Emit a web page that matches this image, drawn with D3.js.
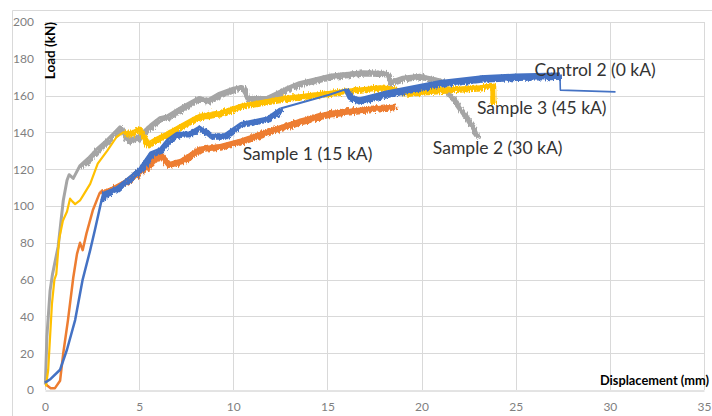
<!DOCTYPE html>
<html><head><meta charset="utf-8">
<script src="https://cdn.jsdelivr.net/npm/d3@7"></script>
<style>html,body{margin:0;padding:0;background:#fff;}svg{display:block;}</style>
</head><body>
<svg id="chart" width="712" height="416"></svg>
<script>
const xTicks = [0, 5, 10, 15, 20, 25, 30, 35];
const yTicks = [0, 20, 40, 60, 80, 100, 120, 140, 160, 180, 200];

// Sample 2 (30 kA) - grey
const sample2 = [[0.02,3],[0.1,29],[0.27,54],[0.4,63],[0.7,78],[0.97,103],[1.17,114],[1.28,117],[1.5,115],[1.86,122],[2.3,126],[2.76,131],[3.3,136],[3.7,140],[3.98,143],[4.35,136],[4.9,137.5],[5.6,144],[6.1,148],[6.5,149],[7.3,154],[8.2,159],[8.6,157.5],[9.2,161],[10.0,164],[10.45,165],[10.7,159],[11.8,159],[12.8,164],[13.5,167],[15.1,171],[16.9,173],[18.0,172.5],[18.15,172],[18.3,167.5],[19.0,170],[19.9,171],[21.0,168.5],[21.3,163],[21.7,157.6],[22.2,150.5],[22.7,143],[22.9,138]];
// Sample 1 (15 kA) - orange
const sample1 = [[0.05,3],[0.3,1],[0.53,1],[0.8,5],[0.97,20],[1.22,38],[1.5,61],[1.7,74],[1.86,80],[2.0,76],[2.2,85],[2.55,98],[2.9,107],[3.6,110],[4.3,114],[5.0,119.6],[5.6,124],[6.0,129],[6.5,123],[7.2,125],[8.2,131.5],[9.3,133],[10.4,136],[11.8,141],[13.5,146.7],[15.1,151],[16.9,153],[18.6,154.5]];
// Sample 3 (45 kA) - yellow
const sample3 = [[0.05,2],[0.17,11],[0.37,47],[0.5,60],[0.6,63],[0.75,82],[0.95,92],[1.17,97],[1.33,104],[1.45,102.5],[1.6,101],[1.86,103],[2.1,107],[2.4,112],[2.8,123],[3.3,130],[3.8,137.5],[4.15,140],[4.5,140],[4.95,142],[5.4,134],[5.9,137],[6.5,140],[7.2,144],[7.9,148],[8.2,149.5],[9.3,151],[10.4,155],[11.8,157.6],[12.6,159],[14.2,161],[16.0,163],[17.8,165],[18.3,164.5],[19.2,162],[20.4,163],[21.5,164],[23.1,165],[23.7,166],[23.72,156]];
// Control 2 (0 kA) - blue
const control2 = [[0.0,4],[0.3,6],[0.8,11],[1.17,22],[1.6,38],[2.0,60],[2.4,76],[2.65,87],[3.0,103],[3.1,107],[3.8,110],[4.4,115],[5.0,120],[5.6,129],[6.1,131],[6.5,136],[7.0,139.6],[7.7,140],[8.2,143],[8.5,141],[8.8,138.6],[9.5,138.6],[10.4,145],[11.8,148],[12.5,153]];
const control2Bridge = [[12.5,153],[15.1,160.5],[16.0,163.5]];
const control2Late = [[16.0,163.5],[16.2,159],[16.7,157.5],[18.2,161.5],[19.5,164],[21.0,167],[23.1,169.5],[25.0,170.5],[27.2,171],[27.35,171]];
const control2Tail = [[27.35,171],[27.37,163],[30.3,162]];

const labelTexts = ["Control 2 (0 kA)", "Sample 3 (45 kA)", "Sample 2 (30 kA)", "Sample 1 (15 kA)"];
const labelX = [26.0, 22.94, 20.6, 10.5];
const labelY = [170.9, 150, 128.3, 125];

const svg = d3.select("#chart");
const W = 712, H = 416;
svg.append("rect").attr("width", W).attr("height", H).attr("fill", "#fff");

const defs = svg.append("defs");
const filt = defs.append("filter").attr("id", "noise").attr("x", "-5%").attr("y", "-20%").attr("width", "110%").attr("height", "140%");
filt.append("feTurbulence").attr("type", "turbulence").attr("baseFrequency", "0.9 0.05").attr("numOctaves", 1).attr("seed", 3).attr("result", "t");
filt.append("feDisplacementMap").attr("in", "SourceGraphic").attr("in2", "t").attr("scale", 5).attr("xChannelSelector", "R").attr("yChannelSelector", "G");

const x = d3.scaleLinear().domain([0, 35]).range([45, 704]);
const y = d3.scaleLinear().domain([0, 200]).range([390, 22]);

// outer frame
svg.append("path").attr("d", `M12.5,${H} V10.5 H${W}`).attr("fill", "none").attr("stroke", "#d9d9d9").attr("stroke-width", 1);

// grid
const grid = svg.append("g");
grid.selectAll("line.h").data(yTicks.filter(d => d > 0)).join("line")
  .attr("x1", x(0)).attr("x2", x(35))
  .attr("y1", d => Math.round(y(d)) + 0.5).attr("y2", d => Math.round(y(d)) + 0.5)
  .attr("stroke", "#d9d9d9");
grid.selectAll("line.v").data(xTicks).join("line")
  .attr("y1", y(0)).attr("y2", y(200))
  .attr("x1", d => Math.round(x(d)) + 0.5).attr("x2", d => Math.round(x(d)) + 0.5)
  .attr("stroke", "#d9d9d9");

// axes
const xAxis = svg.append("g").attr("transform", `translate(0,${Math.round(y(0)) + 0.5})`)
  .call(d3.axisBottom(x).tickValues(xTicks).tickSize(0).tickPadding(12));
xAxis.select(".domain").attr("stroke", "#c8c8c8");
const yAxis = svg.append("g").attr("transform", `translate(${x(0) - 11},0)`)
  .call(d3.axisLeft(y).tickValues(yTicks).tickSize(0).tickPadding(0));
yAxis.select(".domain").remove();
svg.selectAll(".tick text").attr("fill", "#7f7f7f").attr("font-family", "Lato, 'Open Sans', sans-serif").attr("font-size", 12);

// axis titles
svg.append("text").attr("transform", `translate(${x(0) + 9.5},${y(200)}) rotate(-90)`)
  .attr("text-anchor", "end").attr("font-family", "Lato, sans-serif").attr("font-weight", "bold")
  .attr("font-size", 13.5).attr("fill", "#000").text("Load (kN)");
svg.append("text").attr("x", 709).attr("y", y(0) - 5).attr("text-anchor", "end")
  .attr("font-family", "Lato, sans-serif").attr("font-weight", "bold")
  .attr("font-size", 12.8).attr("fill", "#000").text("Displacement (mm)");

const line = d3.line().x(d => x(d[0])).y(d => y(d[1]));

function draw(data, color, thin, thick, from) {
  svg.append("path").datum(data).attr("d", line).attr("fill", "none")
    .attr("stroke", color).attr("stroke-width", thin).attr("stroke-linejoin", "round");
  if (thick) {
    const part = data.filter(d => d[0] >= from);
    svg.append("path").datum(part).attr("d", line).attr("fill", "none")
      .attr("stroke", color).attr("stroke-width", thick).attr("stroke-linejoin", "round")
      .attr("filter", "url(#noise)");
  }
}
draw(sample2, "#a5a5a5", 3, 5.5, 1.8);
draw(sample1, "#ed7d31", 2.5, 6.5, 2.8);
draw(sample3, "#ffc000", 2.2, 6, 4.0);
draw(control2, "#4472c4", 2.5, 5.5, 2.9);
draw(control2Bridge, "#4472c4", 2);
draw(control2Late, "#4472c4", 5.5, 5.5, 0);
draw(control2Tail, "#4472c4", 1.6);

svg.selectAll("text.lbl").data(labelTexts).join("text").attr("class", "lbl")
  .attr("x", (d, i) => x(labelX[i])).attr("y", (d, i) => y(labelY[i]))
  .attr("font-family", "Lato, 'Open Sans', sans-serif").attr("font-size", 17.5)
  .attr("fill", "#333").text(d => d);
</script>
</body></html>
